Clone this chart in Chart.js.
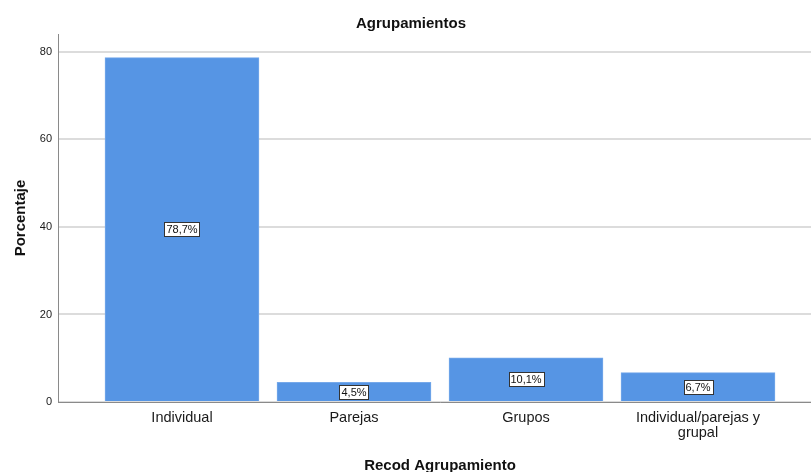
<!DOCTYPE html>
<html>
<head>
<meta charset="utf-8">
<script src="https://cdn.jsdelivr.net/npm/chart.js@4/dist/chart.umd.min.js"></script>
<style>
  html, body { margin: 0; padding: 0; overflow: hidden; background: #fff; }
  #wrap { width: 824px; height: 480px; }
</style>
</head>
<body>
<div id="wrap"><canvas id="c" width="824" height="480"></canvas></div>
<script>
const categories = ['Individual', 'Parejas', 'Grupos', ['Individual/parejas y', 'grupal']];
const percentages = [78.7, 4.5, 10.1, 6.7];
const valueLabels = ['78,7%', '4,5%', '10,1%', '6,7%'];
const yTicks = [0, 20, 40, 60, 80];

const FONT = "'Liberation Sans', Arial, sans-serif";

const labelBoxes = {
  id: 'labelBoxes',
  afterDatasetsDraw(chart) {
    const ctx = chart.ctx;
    const meta = chart.getDatasetMeta(0);
    ctx.save();
    ctx.font = '11px ' + FONT;
    ctx.textAlign = 'center';
    ctx.textBaseline = 'middle';
    meta.data.forEach((bar, i) => {
      const txt = valueLabels[i];
      const w = Math.round(ctx.measureText(txt).width + 4);
      const h = 14;
      const cx = bar.x;
      const cy = (bar.y + bar.base) / 2;
      const x0 = Math.round(cx - w / 2) + 0.5;
      const y0 = Math.round(cy - h / 2) + 0.5;
      ctx.fillStyle = '#ffffff';
      ctx.fillRect(x0, y0, w, h);
      ctx.strokeStyle = '#333333';
      ctx.lineWidth = 1;
      ctx.strokeRect(x0, y0, w, h);
      ctx.fillStyle = '#111111';
      ctx.fillText(txt, cx, cy + 1);
    });
    ctx.restore();
  }
};

new Chart(document.getElementById('c'), {
  type: 'bar',
  data: {
    datasets: [{
      data: percentages.map((v, i) => ({ x: i, y: v })),
      backgroundColor: '#5695E4',
      borderColor: '#76A9EA',
      borderWidth: 1,
      barThickness: 154
    }]
  },
  options: {
    responsive: false,
    animation: false,
    layout: { padding: { left: 0, right: 2, top: 0, bottom: 0 } },
    plugins: {
      legend: { display: false },
      tooltip: { enabled: false },
      title: {
        display: true,
        text: 'Agrupamientos',
        color: '#111',
        font: { family: FONT, size: 15, weight: 'bold', lineHeight: 1.2 },
        padding: { top: 15, bottom: 1 }
      }
    },
    scales: {
      x: {
        type: 'linear',
        offset: false,
        grace: 0,
        min: -0.7209,
        max: 3.7209,
        afterBuildTicks: (s) => { s.ticks = categories.map((_, i) => ({ value: i })); },
        afterFit: (s) => { s.height = 78; },
        grid: { display: false, drawTicks: false },
        border: { display: true, color: '#8a8a8a', width: 1 },
        ticks: {
          autoSkip: false,
          maxRotation: 0,
          minRotation: 0,
          padding: 9,
          color: '#1a1a1a',
          font: { family: FONT, size: 14.5, lineHeight: 1.0 },
          callback: (v) => categories[v]
        },
        title: {
          display: true,
          text: 'Recod Agrupamiento',
          color: '#111',
          font: { family: FONT, size: 15, weight: 'bold', lineHeight: 1.2 },
          padding: { top: 0, bottom: 5.5 }
        }
      },
      y: {
        min: 0,
        max: 84.1,
        afterBuildTicks: (s) => { s.ticks = yTicks.map(v => ({ value: v })); },
        afterFit: (s) => { s.width = 58; },
        grid: { color: '#dcdcdc', lineWidth: 2, drawTicks: false },
        border: { display: true, color: '#8a8a8a', width: 1 },
        ticks: {
          padding: 6,
          color: '#1a1a1a',
          font: { family: FONT, size: 11 }
        },
        title: {
          display: true,
          text: 'Porcentaje',
          color: '#111',
          font: { family: FONT, size: 15, weight: 'bold', lineHeight: 1.2 },
          padding: { top: 12, bottom: 0 }
        }
      }
    }
  },
  plugins: [labelBoxes]
});
</script>
</body>
</html>
